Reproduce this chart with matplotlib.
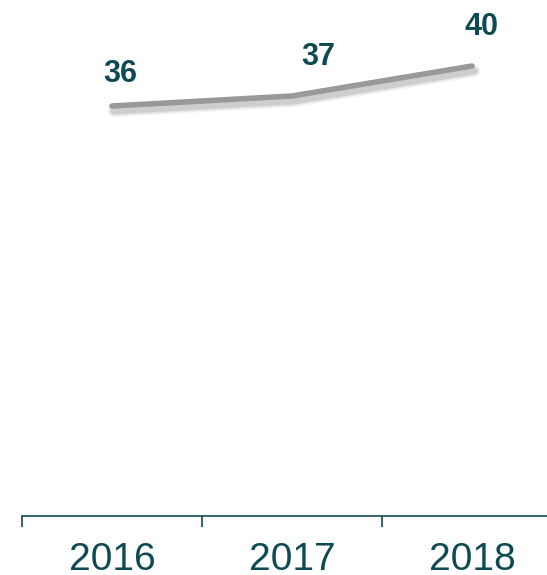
import matplotlib
matplotlib.use("Agg")
import matplotlib.pyplot as plt
import matplotlib.patheffects as pe
import numpy as np

years = ["2016", "2017", "2018"]
values = [36, 37, 40]

teal = "#0e4a53"
line_gray = "#999999"

# per-label nudges (points) for the value labels
label_offsets = [(6, 17), (19, 22), (7, 22)]

fig = plt.figure(figsize=(5.47, 5.75), dpi=100)
ax = fig.add_axes([22 / 547, 59 / 575, 540 / 547, 516 / 575])

x = np.arange(len(years))
# soft shadow: a few widening translucent strokes below the line
shadow = [pe.SimpleLineShadow(offset=(1.5, -3.5), shadow_color="#777777", alpha=a, linewidth=w)
          for w, a in [(9, 0.08), (7, 0.12), (5, 0.2)]]
ax.plot(x, values, color=line_gray, linewidth=4, solid_capstyle="round",
        path_effects=shadow + [pe.Normal()])

for xi, v, off in zip(x, values, label_offsets):
    ax.annotate(str(v), (xi, v), xytext=off, textcoords="offset points",
                ha="center", va="baseline", fontsize=22, fontweight="bold",
                color=teal, family="Liberation Sans")

ax.set_xlim(-0.5, len(years) - 0.5)
ax.set_ylim(-5, 46.6)

ax.set_xticks(np.arange(len(years) + 1) - 0.5)
ax.set_xticklabels([])
ax.set_xticks(x, minor=True)
ax.set_xticklabels(years, minor=True, fontsize=28, color=teal, family="Liberation Sans")
ax.tick_params(axis="x", which="major", length=8, width=1.2, color=teal, direction="out")
ax.tick_params(axis="x", which="minor", length=0, pad=19)
ax.set_yticks([])

for s in ["top", "right", "left"]:
    ax.spines[s].set_visible(False)
ax.spines["bottom"].set_color(teal)
ax.spines["bottom"].set_linewidth(1.2)

fig.savefig("out.png", dpi=100)
